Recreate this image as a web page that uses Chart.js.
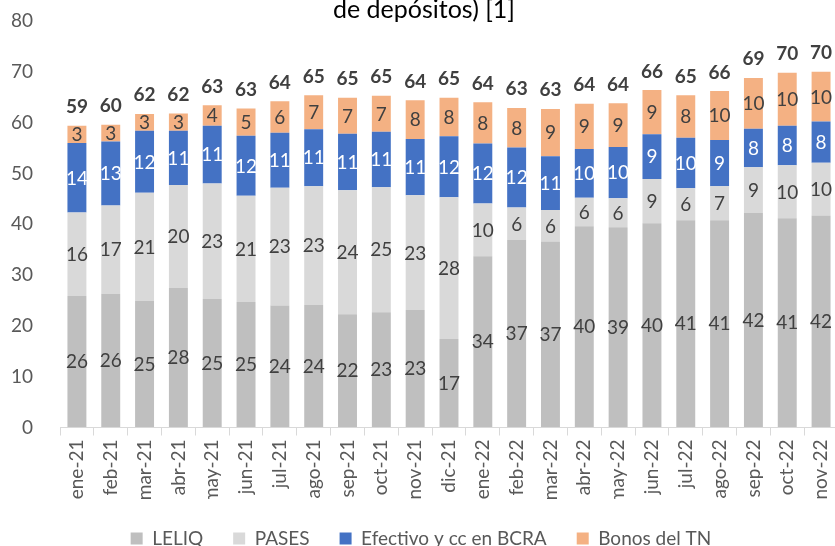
<!DOCTYPE html>
<html>
<head>
<meta charset="utf-8">
<script src="https://cdn.jsdelivr.net/npm/chart.js@4"></script>
<style>
  html, body { margin: 0; padding: 0; background: #ffffff; overflow: hidden; }
  #wrap { position: absolute; left: 0; top: 0; }
</style>
</head>
<body>
<div id="wrap"><canvas id="can" width="848" height="558"></canvas></div>
<script>
// Datos (en % de depósitos)
const categories = ["ene-21", "feb-21", "mar-21", "abr-21", "may-21", "jun-21", "jul-21", "ago-21",
  "sep-21", "oct-21", "nov-21", "dic-21", "ene-22", "feb-22", "mar-22", "abr-22", "may-22",
  "jun-22", "jul-22", "ago-22", "sep-22", "oct-22", "nov-22"];
const leliq    = [25.9, 26.3, 24.9, 27.5, 25.3, 24.7, 24.0, 24.1, 22.3, 22.7, 23.1, 17.4, 33.7,
  36.9, 36.6, 39.6, 39.4, 40.2, 40.8, 40.8, 42.2, 41.2, 41.7];
const pases    = [16.4, 17.4, 21.3, 20.2, 22.7, 20.9, 23.2, 23.4, 24.4, 24.6, 22.6, 27.9, 10.4,
  6.4, 6.2, 5.6, 5.7, 8.7, 6.3, 6.7, 9.0, 10.4, 10.4];
const efectivo = [13.7, 12.6, 12.2, 10.7, 11.4, 11.8, 10.8, 11.2, 11.1, 10.9, 11.1, 12.0, 11.8,
  11.8, 10.6, 9.6, 10.1, 8.8, 9.9, 9.1, 7.6, 7.8, 8.1];
const bonos    = [3.4, 3.3, 3.3, 3.4, 4.0, 5.4, 6.2, 6.7, 7.1, 7.1, 7.6, 7.6, 8.1,
  7.8, 9.3, 8.9, 8.6, 8.7, 8.4, 9.6, 10.0, 10.4, 9.8];
const totals   = [59, 60, 62, 62, 63, 63, 64, 65, 65, 65, 64, 65, 64, 63, 63, 64, 64, 66, 65, 66, 69, 70, 70];
const yTicks = [0, 10, 20, 30, 40, 50, 60, 70, 80];

const FONT = "Lato";

// Etiquetas de valores y totales
const labelsPlugin = {
  id: "valueLabels",
  afterDatasetsDraw(chart) {
    const ctx = chart.ctx;
    ctx.save();
    ctx.textAlign = "center";
    ctx.textBaseline = "alphabetic";
    chart.data.datasets.forEach((ds, di) => {
      const meta = chart.getDatasetMeta(di);
      ctx.font = "19px " + FONT;
      ctx.fillStyle = di === 2 ? "#ffffff" : "#404040";
      meta.data.forEach((bar, i) => {
        const mid = (bar.y + bar.base) / 2;
        ctx.fillText(String(Math.round(ds.data[i])), bar.x, mid + 6.8);
      });
    });
    const last = chart.getDatasetMeta(chart.data.datasets.length - 1);
    ctx.font = "bold 19px " + FONT;
    ctx.fillStyle = "#404040";
    last.data.forEach((bar, i) => {
      ctx.fillText(String(totals[i]), bar.x, bar.y - 12.5);
    });
    ctx.restore();
  }
};

// Título (la primera línea queda fuera de la imagen)
const titlePlugin = {
  id: "topTitle",
  afterDraw(chart) {
    const ctx = chart.ctx;
    ctx.save();
    ctx.font = "25px " + FONT;
    ctx.fillStyle = "#000000";
    ctx.textAlign = "center";
    ctx.textBaseline = "alphabetic";
    ctx.fillText("de depósitos) [1]", 424, 18);
    ctx.restore();
  }
};

const chart = new Chart(document.getElementById("can"), {
  type: "bar",
  data: {
    labels: categories,
    datasets: [
      { label: "LELIQ", data: leliq, backgroundColor: "#BFBFBF" },
      { label: "PASES", data: pases, backgroundColor: "#D9D9D9" },
      { label: "Efectivo y cc en BCRA", data: efectivo, backgroundColor: "#4472C4" },
      { label: "Bonos del TN", data: bonos, backgroundColor: "#F4B183" }
    ]
  },
  options: {
    responsive: false,
    animation: false,
    layout: { padding: { top: 21, right: 6, bottom: 0, left: 0 } },
    datasets: { bar: { barPercentage: 0.56, categoryPercentage: 1 } },
    plugins: {
      title: { display: false },
      tooltip: { enabled: false },
      legend: {
        position: "bottom",
        labels: {
          boxWidth: 12,
          boxHeight: 12,
          padding: 30,
          color: "#595959",
          font: { family: FONT, size: 19 }
        }
      }
    },
    scales: {
      x: {
        stacked: true,
        afterFit(scale) { scale.height = 71.5; },
        grid: { display: true, drawOnChartArea: false, tickLength: 8, color: "#D9D9D9" },
        border: { display: true, color: "#D9D9D9" },
        ticks: {
          minRotation: 90,
          maxRotation: 90,
          autoSkip: false,
          padding: 4,
          color: "#595959",
          font: { family: FONT, size: 19 }
        }
      },
      y: {
        stacked: true,
        min: 0,
        max: 80,
        afterFit(scale) { scale.width = 60; },
        afterBuildTicks(scale) { scale.ticks = yTicks.map(v => ({ value: v })); },
        // marcas invisibles: solo sirven para separar las etiquetas del eje
        grid: { display: true, drawOnChartArea: false, drawTicks: true, tickLength: 27, color: "rgba(0,0,0,0)" },
        border: { display: false },
        ticks: {
          padding: 0,
          color: "#595959",
          font: { family: FONT, size: 19 }
        }
      }
    }
  },
  plugins: [labelsPlugin, titlePlugin]
});
</script>
</body>
</html>
